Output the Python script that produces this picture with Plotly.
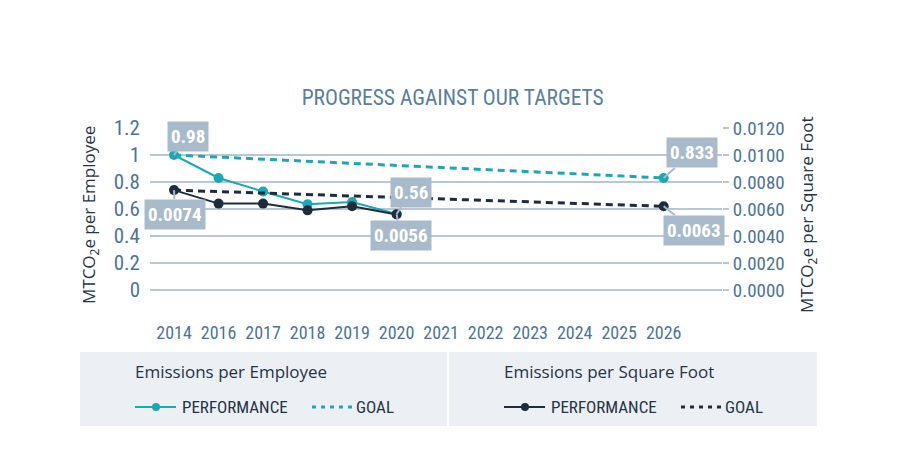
import plotly.graph_objects as go

years = ["2014", "2016", "2017", "2018", "2019", "2020", "2021", "2022", "2023", "2024", "2025", "2026"]
perf_years = ["2014", "2016", "2017", "2018", "2019", "2020"]
emp_perf = [1.0, 0.83, 0.73, 0.635, 0.652, 0.563]
sqft_perf = [0.0074, 0.0064, 0.0064, 0.0059, 0.0062, 0.0056]
goal_years = ["2014", "2026"]
emp_goal = [1.0, 0.83]
sqft_goal = [0.0074, 0.0062]
y_ticks = [0, 0.2, 0.4, 0.6, 0.8, 1.0, 1.2]
y_ticklabels = ["0", "0.2", "0.4", "0.6", "0.8", "1", "1.2"]
y2_ticks = [0, 0.002, 0.004, 0.006, 0.008, 0.010, 0.012]
y2_ticklabels = ["0.0000", "0.0020", "0.0040", "0.0060", "0.0080", "0.0100", "0.0120"]
# callouts: (year, value, text, axis, ax, ay)
callouts = [
    ("2014", 1.0, "0.98", "y", 14, -19),
    ("2014", 0.0074, "0.0074", "y2", 1, 24),
    ("2020", 0.563, "0.56", "y", 14, -22),
    ("2020", 0.0056, "0.0056", "y2", 4, 21),
    ("2026", 0.83, "0.833", "y", 28, -25),
    ("2026", 0.0062, "0.0063", "y2", 30, 24),
]

TEAL = "#1aa8b5"
NAVY = "#1f2c3b"
TICK = "#4f7491"
TITLE = "#5a7e9b"
DARK = "#263445"
GRID = "#b9c7d4"
BOX = "#a9bbca"
COND = "Roboto Condensed, Roboto, sans-serif"
HUM = "Open Sans, sans-serif"

PL, PR, PT, PB = 150, 722, 128, 320
W, H = PR - PL, PB - PT
def px(v):
    return (v - PL) / W
def py(v):
    return (PB - v) / H

fig = go.Figure()
fig.add_trace(go.Scatter(x=goal_years, y=emp_goal, mode="lines", name="GOAL",
                         line=dict(color=TEAL, width=3, dash="7px,5px")))
fig.add_trace(go.Scatter(x=goal_years[-1:], y=emp_goal[-1:], mode="markers",
                         marker=dict(color=TEAL, size=10)))
fig.add_trace(go.Scatter(x=perf_years, y=emp_perf, mode="lines+markers", name="PERFORMANCE",
                         line=dict(color=TEAL, width=2), marker=dict(color=TEAL, size=10)))
fig.add_trace(go.Scatter(x=goal_years, y=sqft_goal, mode="lines", name="GOAL", yaxis="y2",
                         line=dict(color=NAVY, width=3, dash="7px,5px")))
fig.add_trace(go.Scatter(x=goal_years[-1:], y=sqft_goal[-1:], mode="markers", yaxis="y2",
                         marker=dict(color=NAVY, size=10)))
fig.add_trace(go.Scatter(x=perf_years, y=sqft_perf, mode="lines+markers", name="PERFORMANCE",
                         yaxis="y2", line=dict(color=NAVY, width=2),
                         marker=dict(color=NAVY, size=10)))

for x, y, t, ax_name, ax, ay in callouts:
    fig.add_annotation(x=years.index(x), y=y, xref="x", yref=ax_name, text="<b>%s</b>" % t,
                       showarrow=True, arrowhead=0, arrowwidth=2, arrowcolor=BOX,
                       ax=ax, ay=ay, bgcolor=BOX, borderpad=3,
                       font=dict(family=COND, size=19, color="white"))

# axis titles
fig.add_annotation(x=px(89), y=py(215), xref="paper", yref="paper", showarrow=False,
                   xanchor="center", yanchor="middle",
                   text="MTCO<sub>2</sub>e per Employee", textangle=-90,
                   font=dict(family=HUM, size=17, color=DARK))
fig.add_annotation(x=px(807), y=py(215), xref="paper", yref="paper", showarrow=False,
                   xanchor="center", yanchor="middle",
                   text="MTCO<sub>2</sub>e per Square Foot", textangle=-90,
                   font=dict(family=HUM, size=17, color=DARK))

# legend panels (drawn manually)
for x0, x1 in [(80, 447), (449, 817)]:
    fig.add_shape(type="rect", xref="paper", yref="paper", x0=px(x0), x1=px(x1),
                  y0=py(426), y1=py(352), fillcolor="#eceff3", line_width=0, layer="below")

legend_groups = [
    ("Emissions per Employee", TEAL, 133),
    ("Emissions per Square Foot", NAVY, 502),
]
for title, color, lx in legend_groups:
    fig.add_annotation(x=px(lx), y=py(371), xref="paper", yref="paper", showarrow=False,
                       text=title, xanchor="left", yanchor="middle",
                       font=dict(family=HUM, size=17, color=DARK))
    fig.add_shape(type="line", xref="paper", yref="paper", x0=px(lx + 2), x1=px(lx + 43),
                  y0=py(407), y1=py(407), line=dict(color=color, width=2))
    fig.add_shape(type="circle", xref="paper", yref="paper", x0=px(lx + 19), x1=px(lx + 27),
                  y0=py(411), y1=py(403), fillcolor=color, line_width=0)
    fig.add_annotation(x=px(lx + 47), y=py(407), xref="paper", yref="paper", showarrow=False,
                       text="PERFORMANCE", xanchor="left", yanchor="middle",
                       font=dict(family=COND, size=17, color=DARK))
    fig.add_shape(type="line", xref="paper", yref="paper", x0=px(lx + 179), x1=px(lx + 219),
                  y0=py(407), y1=py(407), line=dict(color=color, width=3, dash="4px,5px"))
    fig.add_annotation(x=px(lx + 221), y=py(407), xref="paper", yref="paper", showarrow=False,
                       text="GOAL", xanchor="left", yanchor="middle",
                       font=dict(family=COND, size=17, color=DARK))

fig.update_layout(
    width=900, height=462,
    margin=dict(l=PL, r=900 - PR, t=PT, b=462 - PB),
    paper_bgcolor="white", plot_bgcolor="rgba(0,0,0,0)",
    showlegend=False,
    title=dict(text="PROGRESS AGAINST OUR TARGETS", x=0.503, xanchor="center",
               y=1 - 97 / 462, yanchor="middle", yref="container",
               font=dict(family=COND, size=21.5, color=TITLE)),
    xaxis=dict(type="category", categoryorder="array", categoryarray=years,
               tickvals=years, range=[-0.54, 12.31], showgrid=False, zeroline=False,
               showline=False, tickangle=0, automargin=False,
               tickfont=dict(family=COND, size=18, color=TICK)),
    yaxis=dict(range=[-0.222, 1.2], tickvals=y_ticks, ticktext=y_ticklabels,
               showgrid=True, gridcolor=GRID, gridwidth=2, zeroline=False, automargin=False,
               ticklabelstandoff=9,
               tickfont=dict(family=COND, size=21, color=TICK)),
    yaxis2=dict(range=[-0.00222, 0.012], tickvals=y2_ticks, ticktext=y2_ticklabels,
                overlaying="y", side="right", showgrid=False, zeroline=False, automargin=False,
                ticks="outside", ticklen=6, tickwidth=2, tickcolor=GRID,
                ticklabelstandoff=0,
                tickfont=dict(family=COND, size=19, color=TICK)),
)

fig.write_html("out.html")
